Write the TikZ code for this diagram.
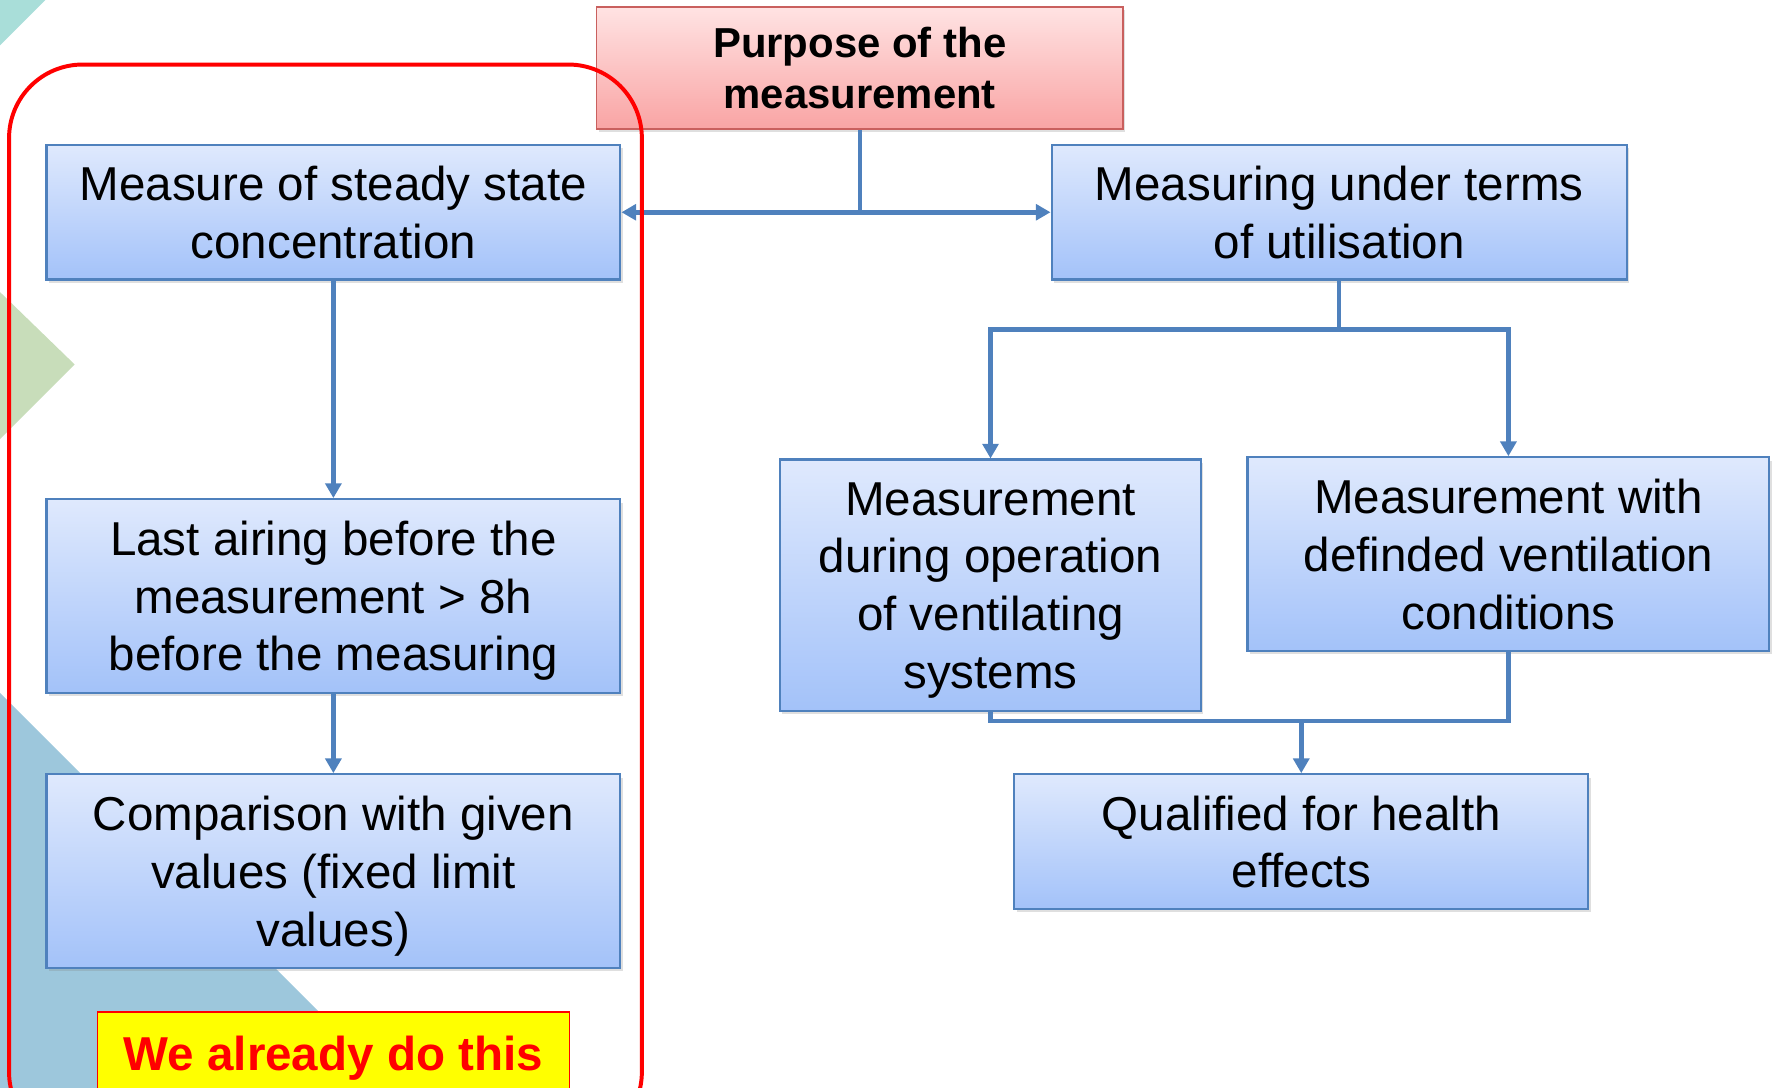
\documentclass[tikz,border=0pt]{standalone}
\usepackage{fontspec}
\setmainfont{Liberation Sans}
\usetikzlibrary{arrows.meta,shadows}
\definecolor{lineblue}{HTML}{4F81BD}
\definecolor{boxtop}{HTML}{DFE9FD}
\definecolor{boxbot}{HTML}{A3C2F9}
\definecolor{pinktop}{HTML}{FFE3E3}
\definecolor{pinkbot}{HTML}{F9A4A4}
\definecolor{pinkedge}{HTML}{C9605E}
\definecolor{tealbg}{HTML}{A9DED9}
\definecolor{greenbg}{HTML}{C8DDBA}
\definecolor{bluebg}{HTML}{9DC7DC}
\definecolor{frameRed}{HTML}{FF0000}
\definecolor{yellowfill}{HTML}{FFFF00}
\tikzset{
  bluebox/.style={draw=lineblue, line width=2pt, top color=boxtop, bottom color=boxbot,
    align=center, inner sep=0pt, text depth=0pt, font=\fontsize{42}{51}\selectfont,
    drop shadow={shadow xshift=2pt, shadow yshift=-3pt, opacity=0.25}},
  pinkbox/.style={draw=pinkedge, line width=1.5pt, top color=pinktop, bottom color=pinkbot,
    align=center, inner sep=0pt, text depth=0pt, font=\fontsize{37}{45}\selectfont\bfseries,
    drop shadow={shadow xshift=2pt, shadow yshift=-3pt, opacity=0.25}},
  notebox/.style={draw=frameRed, line width=1.5pt, fill=yellowfill, align=center, inner sep=0pt,
    text=frameRed, font=\fontsize{42}{51}\selectfont\bfseries},
  conn/.style={draw=lineblue, line width=4pt},
  tipped/.style={-{Triangle[length=13pt,width=14pt]}},
  twotipped/.style={{Triangle[length=13pt,width=14pt]}-{Triangle[length=13pt,width=14pt]}},
}
\begin{document}
\begin{tikzpicture}[x=1pt,y=-1pt]
\useasboundingbox (0,0) rectangle (1568,961);
% background decoration
\fill[tealbg] (0,0) -- (40,0) -- (0,40) -- cycle;
\fill[greenbg] (0,258) -- (66,322) -- (0,388) -- cycle;
\fill[bluebg] (0,612) -- (360,972) -- (0,972) -- cycle;
% boxes
\node[pinkbox, minimum width=465pt, minimum height=108pt] (P) at (759.5,60) {Purpose of the\\measurement};
\node[bluebox, minimum width=507pt, minimum height=119pt] (A) at (294.5,187.5) {Measure of steady state\\concentration};
\node[bluebox, minimum width=508pt, minimum height=119pt] (B) at (1183,187.5) {Measuring under terms\\of utilisation};
\node[bluebox, minimum width=507pt, minimum height=171pt] (C) at (294.5,526.5) {Last airing before the\\measurement > 8h\\before the measuring};
\node[bluebox, minimum width=507pt, minimum height=171pt] (D) at (294.5,769.5) {Comparison with given\\values (fixed limit\\values)};
\node[bluebox, minimum width=372pt, minimum height=222pt] (E) at (875,517) {Measurement\\during operation\\of ventilating\\systems};
\node[bluebox, minimum width=461pt, minimum height=171pt] (F) at (1332.5,489.5) {Measurement with\\definded ventilation\\conditions};
\node[bluebox, minimum width=507pt, minimum height=119pt] (G) at (1149.5,743.5) {Qualified for health\\effects};
\node[notebox, minimum width=417pt, minimum height=90pt, anchor=north] (Y) at (294.5,893) {\raisebox{17pt}{We already do this}};
% connectors
\coordinate (tj) at (759.5,187.5);
\coordinate (mj) at (1149.5,637);
\draw[conn] (P.south) -- (tj);
\draw[conn, twotipped] (A.east) -- (B.west);
\draw[conn, tipped] (A.south) -- (C.north);
\draw[conn, tipped] (C.south) -- (D.north);
\draw[conn, tipped] (B.south) -- ++(0,43) -| (E.north);
\draw[conn, tipped] (B.south) -- ++(0,43) -| (F.north);
\draw[conn] (E.south) |- (mj) -| (F.south);
\draw[conn, tipped] (mj) -- (G.north);
% red frame
\draw[frameRed, line width=3.5pt, rounded corners=65pt] (8,57) rectangle (567,1012);
\end{tikzpicture}
\end{document}
